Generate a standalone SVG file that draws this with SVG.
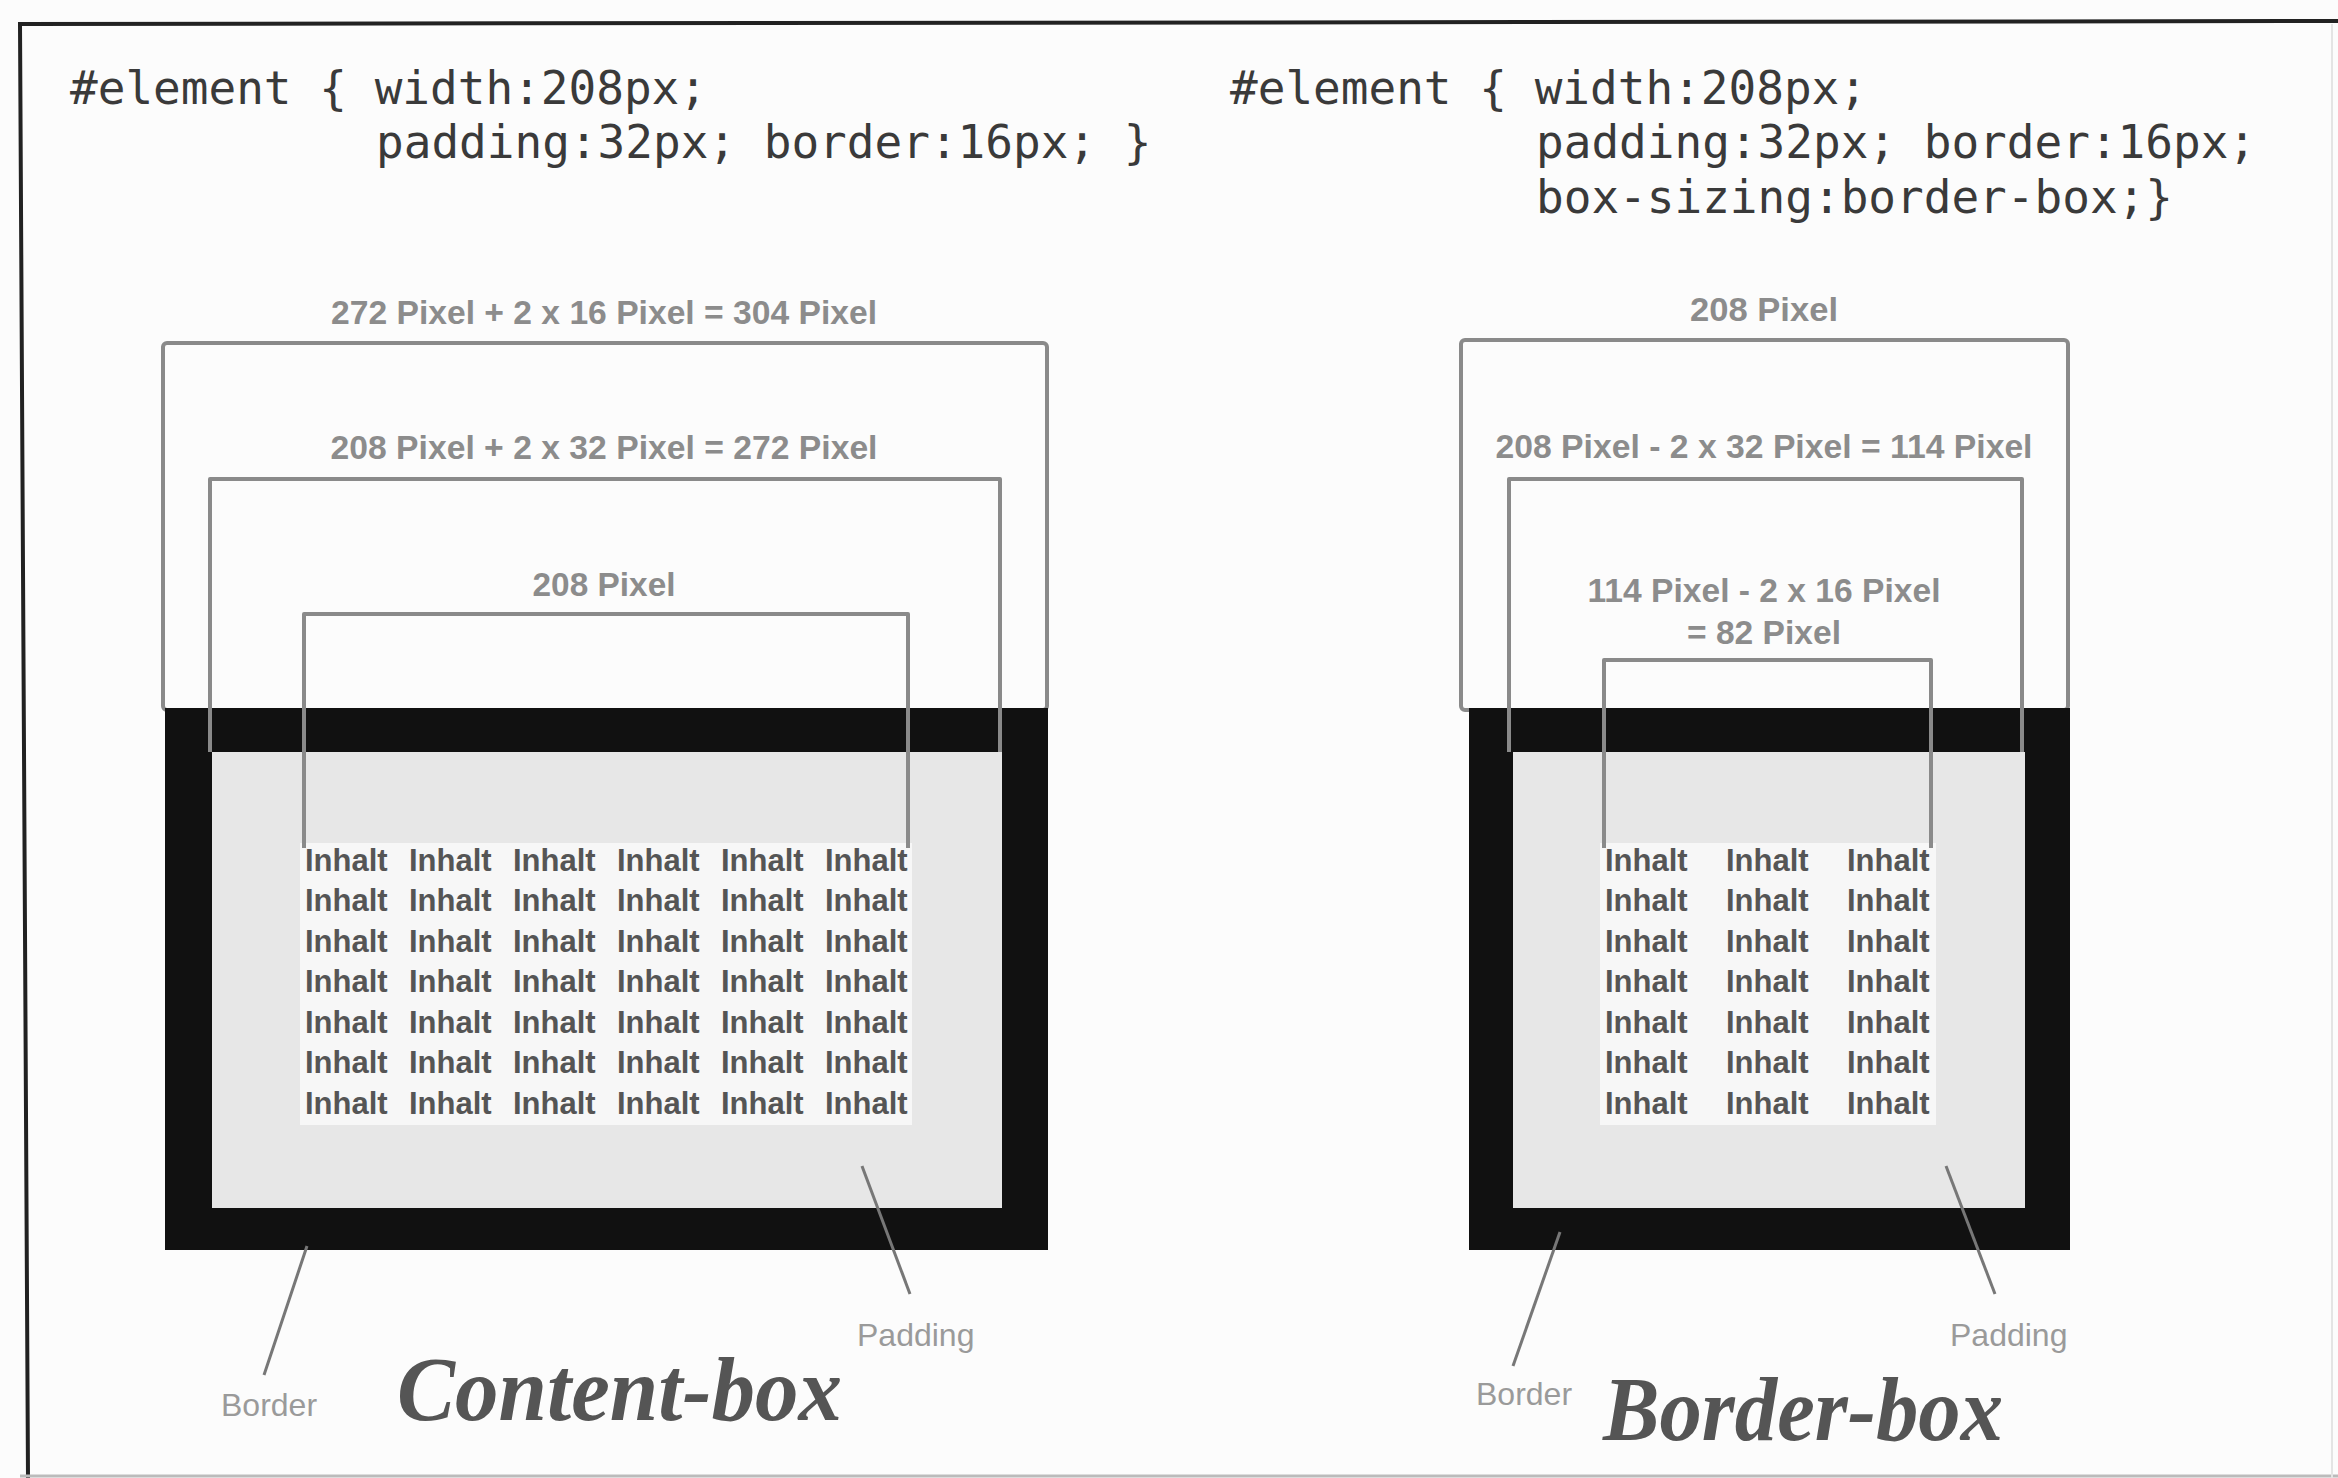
<svg xmlns="http://www.w3.org/2000/svg" width="2338" height="1478" viewBox="0 0 2338 1478">
<defs>
<style>
.code{font-family:"DejaVu Sans Mono","Liberation Mono",monospace;font-size:46px;fill:#3a3a3a}
.dim{font-family:"Liberation Sans",Arial,sans-serif;font-size:33px;font-weight:bold;fill:#8c8c8c}
.inh{font-family:"Liberation Sans",Arial,sans-serif;font-size:31px;font-weight:bold;fill:#555}
.lbl{font-family:"Liberation Sans",Arial,sans-serif;font-size:32px;fill:#9a9a9a}
.title{font-family:"Liberation Serif","DejaVu Serif",serif;font-size:92px;font-weight:bold;font-style:italic;fill:#555}
.outline{fill:none;stroke:#8a8a8a;stroke-width:4;stroke-linejoin:round}
.black{fill:#111}
.pad{fill:#e7e7e7}
.cont{fill:#f7f7f7}
.ptr{stroke:#777;stroke-width:3;fill:none}
</style>
</defs>
<rect width="2338" height="1478" fill="#fcfcfc"/>
<g id="frame">
<path d="M28,1478 L20,24 L2338,21" fill="none" stroke="#222" stroke-width="4"/>
<line x1="20" y1="1476" x2="2338" y2="1476" stroke="#bbb" stroke-width="3"/>
<line x1="2332" y1="24" x2="2332" y2="1478" stroke="#e4e4e4" stroke-width="2"/>
</g>

<g id="code-left">
<text class="code" x="70" y="104">#element { width:208px;</text>
<text class="code" x="376" y="158">padding:32px; border:16px; }</text>
</g>
<g id="code-right">
<text class="code" x="1230" y="104">#element { width:208px;</text>
<text class="code" x="1536" y="158">padding:32px; border:16px;</text>
<text class="code" x="1536" y="213">box-sizing:border-box;}</text>
</g>

<g id="content-box">
<rect class="outline" x="163" y="343" width="884" height="367" rx="4"/>
<rect class="black" x="165" y="708" width="883" height="542"/>
<rect class="pad" x="212" y="752" width="790" height="456"/>
<rect class="cont" x="300" y="843" width="612" height="282"/>
<path class="outline" d="M210,752 V479 H1000 V752"/>
<path class="outline" d="M304,848 V614 H908 V848"/>
<text class="dim" x="604" y="324" text-anchor="middle" textLength="546" lengthAdjust="spacingAndGlyphs">272 Pixel + 2 x 16 Pixel = 304 Pixel</text>
<text class="dim" x="604" y="459" text-anchor="middle" textLength="547" lengthAdjust="spacingAndGlyphs">208 Pixel + 2 x 32 Pixel = 272 Pixel</text>
<text class="dim" x="604" y="596" text-anchor="middle" textLength="143" lengthAdjust="spacingAndGlyphs">208 Pixel</text>
<g class="inh">
<text y="871"><tspan x="305">Inhalt</tspan><tspan x="409">Inhalt</tspan><tspan x="513">Inhalt</tspan><tspan x="617">Inhalt</tspan><tspan x="721">Inhalt</tspan><tspan x="825">Inhalt</tspan></text>
<text y="911"><tspan x="305">Inhalt</tspan><tspan x="409">Inhalt</tspan><tspan x="513">Inhalt</tspan><tspan x="617">Inhalt</tspan><tspan x="721">Inhalt</tspan><tspan x="825">Inhalt</tspan></text>
<text y="952"><tspan x="305">Inhalt</tspan><tspan x="409">Inhalt</tspan><tspan x="513">Inhalt</tspan><tspan x="617">Inhalt</tspan><tspan x="721">Inhalt</tspan><tspan x="825">Inhalt</tspan></text>
<text y="992"><tspan x="305">Inhalt</tspan><tspan x="409">Inhalt</tspan><tspan x="513">Inhalt</tspan><tspan x="617">Inhalt</tspan><tspan x="721">Inhalt</tspan><tspan x="825">Inhalt</tspan></text>
<text y="1033"><tspan x="305">Inhalt</tspan><tspan x="409">Inhalt</tspan><tspan x="513">Inhalt</tspan><tspan x="617">Inhalt</tspan><tspan x="721">Inhalt</tspan><tspan x="825">Inhalt</tspan></text>
<text y="1073"><tspan x="305">Inhalt</tspan><tspan x="409">Inhalt</tspan><tspan x="513">Inhalt</tspan><tspan x="617">Inhalt</tspan><tspan x="721">Inhalt</tspan><tspan x="825">Inhalt</tspan></text>
<text y="1114"><tspan x="305">Inhalt</tspan><tspan x="409">Inhalt</tspan><tspan x="513">Inhalt</tspan><tspan x="617">Inhalt</tspan><tspan x="721">Inhalt</tspan><tspan x="825">Inhalt</tspan></text>
</g>
<text class="lbl" x="221" y="1416">Border</text>
<text class="lbl" x="857" y="1346">Padding</text>
<text class="title" x="397" y="1420" textLength="445" lengthAdjust="spacingAndGlyphs">Content-box</text>
</g>

<g id="border-box">
<rect class="outline" x="1461" y="340" width="607" height="370" rx="4"/>
<rect class="black" x="1469" y="708" width="601" height="542"/>
<rect class="pad" x="1513" y="752" width="512" height="456"/>
<rect class="cont" x="1600" y="843" width="336" height="282"/>
<path class="outline" d="M1509,752 V479 H2022 V752"/>
<path class="outline" d="M1604,848 V660 H1931 V848"/>
<text class="dim" x="1764" y="321" text-anchor="middle" textLength="148" lengthAdjust="spacingAndGlyphs">208 Pixel</text>
<text class="dim" x="1764" y="458" text-anchor="middle" textLength="537" lengthAdjust="spacingAndGlyphs">208 Pixel - 2 x 32 Pixel = 114 Pixel</text>
<text class="dim" x="1764" y="602" text-anchor="middle" textLength="353" lengthAdjust="spacingAndGlyphs">114 Pixel - 2 x 16 Pixel</text>
<text class="dim" x="1764" y="644" text-anchor="middle" textLength="154" lengthAdjust="spacingAndGlyphs">= 82 Pixel</text>
<g class="inh">
<text y="871"><tspan x="1605">Inhalt</tspan><tspan x="1726">Inhalt</tspan><tspan x="1847">Inhalt</tspan></text>
<text y="911"><tspan x="1605">Inhalt</tspan><tspan x="1726">Inhalt</tspan><tspan x="1847">Inhalt</tspan></text>
<text y="952"><tspan x="1605">Inhalt</tspan><tspan x="1726">Inhalt</tspan><tspan x="1847">Inhalt</tspan></text>
<text y="992"><tspan x="1605">Inhalt</tspan><tspan x="1726">Inhalt</tspan><tspan x="1847">Inhalt</tspan></text>
<text y="1033"><tspan x="1605">Inhalt</tspan><tspan x="1726">Inhalt</tspan><tspan x="1847">Inhalt</tspan></text>
<text y="1073"><tspan x="1605">Inhalt</tspan><tspan x="1726">Inhalt</tspan><tspan x="1847">Inhalt</tspan></text>
<text y="1114"><tspan x="1605">Inhalt</tspan><tspan x="1726">Inhalt</tspan><tspan x="1847">Inhalt</tspan></text>
</g>
<text class="lbl" x="1476" y="1405">Border</text>
<text class="lbl" x="1950" y="1346">Padding</text>
<text class="title" x="1603" y="1440" textLength="400" lengthAdjust="spacingAndGlyphs">Border-box</text>
</g>

<g id="connectors">
<line class="ptr" x1="307" y1="1246" x2="264" y2="1375"/>
<line class="ptr" x1="862" y1="1166" x2="910" y2="1294"/>
<line class="ptr" x1="1560" y1="1232" x2="1513" y2="1366"/>
<line class="ptr" x1="1946" y1="1166" x2="1995" y2="1294"/>
</g>
</svg>
